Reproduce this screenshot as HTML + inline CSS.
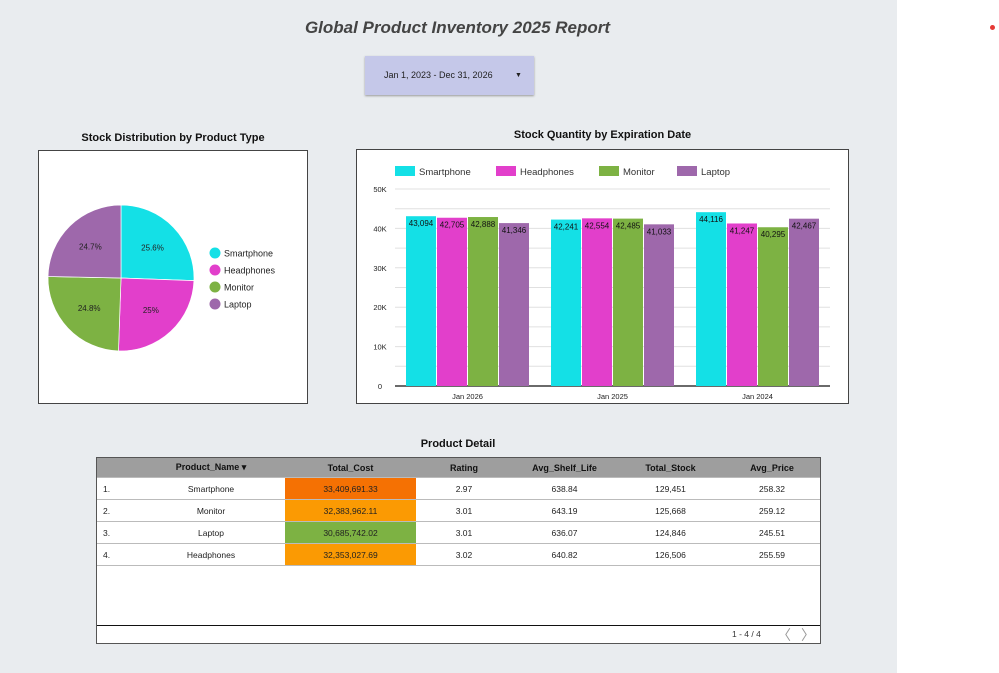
<!DOCTYPE html>
<html><head><meta charset="utf-8"><style>
body{margin:0;width:999px;height:673px;position:relative;background:#fff;font-family:"Liberation Sans",sans-serif;overflow:hidden}
#bg{position:absolute;left:0;top:0;width:897px;height:673px;background:#e9ecef}
.t{position:absolute;font-weight:bold;font-size:11px;color:#111;text-align:center}
table{border-collapse:collapse;font-size:8.5px;color:#222}
td,th{text-align:center;padding:0;height:21px;border-bottom:1px solid #bbb}
th{background:#9e9e9e;height:19px;font-size:9px;color:#111}
</style></head><body>
<div id="bg"></div>
<div style="position:absolute;left:990px;top:25px;width:5px;height:5px;border-radius:50%;background:#e53935"></div>
<div class="t" style="left:250px;top:18px;width:415px;font-size:17px;font-style:italic;color:#444">Global Product Inventory 2025 Report</div>
<div style="position:absolute;left:365px;top:56px;width:169px;height:39px;background:#c5c8e9;box-shadow:0 1px 2px #999;font-size:9px;line-height:39px;color:#222"><span style="margin-left:19px">Jan 1, 2023 - Dec 31, 2026</span><span style="position:absolute;left:150px;font-size:7px">▼</span></div>

<div class="t" style="left:38px;top:132px;width:270px">Stock Distribution by Product Type</div>
<div style="position:absolute;left:38px;top:150px;width:268px;height:252px;background:#fff;border:1px solid #444">
<svg id="pie" width="268" height="252"></svg></div>

<div class="t" style="left:356px;top:129px;width:493px">Stock Quantity by Expiration Date</div>
<div style="position:absolute;left:356px;top:149px;width:491px;height:253px;background:#fff;border:1px solid #444">
<svg id="bar" width="491" height="253"></svg></div>

<div class="t" style="left:96px;top:438px;width:724px">Product Detail</div>
<div style="position:absolute;left:96px;top:457px;width:723px;height:185px;background:#fff;border:1px solid #555">
<table style="width:723px">
<tr><th style="width:40px"></th><th style="width:148px">Product_Name ▾</th><th style="width:131px">Total_Cost</th><th style="width:96px">Rating</th><th style="width:105px">Avg_Shelf_Life</th><th style="width:107px">Total_Stock</th><th>Avg_Price</th></tr>
<tr><td style="text-align:left;padding-left:6px">1.</td><td>Smartphone</td><td style="background:#f57103">33,409,691.33</td><td>2.97</td><td>638.84</td><td>129,451</td><td>258.32</td></tr>
<tr><td style="text-align:left;padding-left:6px">2.</td><td>Monitor</td><td style="background:#fb9a03">32,383,962.11</td><td>3.01</td><td>643.19</td><td>125,668</td><td>259.12</td></tr>
<tr><td style="text-align:left;padding-left:6px">3.</td><td>Laptop</td><td style="background:#7db243">30,685,742.02</td><td>3.01</td><td>636.07</td><td>124,846</td><td>245.51</td></tr>
<tr><td style="text-align:left;padding-left:6px">4.</td><td>Headphones</td><td style="background:#fb9a03">32,353,027.69</td><td>3.02</td><td>640.82</td><td>126,506</td><td>255.59</td></tr>
</table>
<div style="position:absolute;left:0;top:167px;width:723px;border-top:1px solid #111"></div>
<div style="position:absolute;left:635px;top:171px;font-size:8.5px;color:#333">1 - 4 / 4</div>
<div style="position:absolute;left:680px;top:167px;font-size:14px;color:#999">〈</div>
<div style="position:absolute;left:704px;top:167px;font-size:14px;color:#999">〉</div>
</div>

<script>
const NS="http://www.w3.org/2000/svg";
function mk(p,tag,a,txt){const e=document.createElementNS(NS,tag);for(const k in a)e.setAttribute(k,a[k]);if(txt!==undefined)e.textContent=txt;p.appendChild(e);return e;}
const series=["Smartphone","Headphones","Monitor","Laptop"];
const colors=["#14e0e6","#e23fcb","#7db243","#9e68ab"];
const pieShares=[25.6,25,24.8,24.7];
const pieLabels=["25.6%","25%","24.8%","24.7%"];
const categories=["Jan 2026","Jan 2025","Jan 2024"];
const smartphone=[43094,42241,44116];
const headphones=[42705,42554,41247];
const monitor=[42888,42485,40295];
const laptop=[41346,41033,42467];
const yTicks=[0,10000,20000,30000,40000,50000];
const yTickLabels=["0","10K","20K","30K","40K","50K"];

// pie
const pie=document.getElementById('pie');
const cx=82,cy=127,r=73;let tot=pieShares.reduce((a,b)=>a+b,0),ang=-Math.PI/2;
pieShares.forEach((v,i)=>{const a2=ang+v/tot*2*Math.PI;
const p=mk(pie,'path',{d:`M${cx},${cy}L${cx+r*Math.cos(ang)},${cy+r*Math.sin(ang)}A${r},${r} 0 0 1 ${cx+r*Math.cos(a2)},${cy+r*Math.sin(a2)}Z`,fill:colors[i],stroke:'#fff','stroke-width':0.7});


const m=(ang+a2)/2;
const t=mk(pie,'text',{x:cx+r*0.6*Math.cos(m),y:cy+r*0.6*Math.sin(m)+3,'font-size':8,'text-anchor':'middle',fill:'#222'},pieLabels[i]);


ang=a2;
const lc=mk(pie,'circle',{cx:176,cy:102+i*17,r:5.5,fill:colors[i]});


const lt=mk(pie,'text',{x:185,y:105.5+i*17,'font-size':9,fill:'#222'},series[i]);


});

// bar
const bar=document.getElementById('bar');
const X0=38,X1=473,Y0=236,Y1=39,ymax=50000;
const y=v=>Y0-(v/ymax)*(Y0-Y1);
const gw=(X1-X0)/categories.length,bw=30;
for(let v=0;v<=ymax;v+=5000){const g=mk(bar,'line',{x1:X0,x2:X1,y1:y(v),y2:y(v),stroke:v?'#e0e0e0':'#111','stroke-width':v?1:1.2});

}
yTicks.forEach((v,i)=>{const t=mk(bar,'text',{x:23,y:y(v)+3,'font-size':7.5,'text-anchor':'middle',fill:'#222'},yTickLabels[i]);

});
const data=[smartphone,headphones,monitor,laptop];
categories.forEach((c,ci)=>{
const gx=X0+ci*gw+(gw-4*bw-3)/2;
data.forEach((s,si)=>{const bx=gx+si*(bw+1);
const b=mk(bar,'rect',{x:bx,y:y(s[ci]),width:bw,height:Y0-y(s[ci]),fill:colors[si]});


const t=mk(bar,'text',{x:bx+bw/2,y:y(s[ci])+10,'font-size':8,'text-anchor':'middle',fill:'#111'},s[ci].toLocaleString('en-US'));

});
const xl=mk(bar,'text',{x:X0+ci*gw+gw/2,y:Y0+13,'font-size':7.5,'text-anchor':'middle',fill:'#222'},c);


});
const lx=[38,139,242,320];
series.forEach((s,i)=>{const r=mk(bar,'rect',{x:lx[i],y:16,width:20,height:10,fill:colors[i]});


const t=mk(bar,'text',{x:lx[i]+24,y:25,'font-size':9.5,fill:'#333'},s);

});
</script>
</body></html>
